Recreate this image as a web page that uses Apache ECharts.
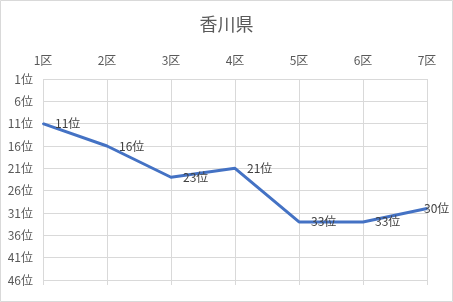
<!DOCTYPE html>
<html><head><meta charset="utf-8">
<script src="https://cdn.jsdelivr.net/npm/echarts@6/dist/echarts.min.js"></script>
<style>html,body{margin:0;padding:0;background:#fff}#c{width:453px;height:302px}</style>
</head><body><div id="c"></div>
<script>
const titleText = '香川県';
const categories = ['1区','2区','3区','4区','5区','6区','7区'];
const ranks = [11, 16, 23, 21, 33, 33, 30];
const yMin = 1, yMax = 46, yStep = 5;

const chart = echarts.init(document.getElementById('c'), null, {renderer:'canvas'});
const font = '"Noto Sans CJK JP", sans-serif';
const lastIdx = ranks.length - 1;
const seriesData = ranks.map((v, i) => i === lastIdx ? {value: v, label: {distance: -4}} : v);
chart.setOption({
  animation: false,
  backgroundColor: '#fff',
  graphic: [{type:'rect', shape:{x:0.5,y:0.5,width:452,height:301}, style:{fill:'none', stroke:'#d9d9d9', lineWidth:1}}],
  title: {text: titleText, left: 'center', top: 10, textStyle:{fontFamily: font, fontSize: 18, fontWeight: 'normal', color:'#595959'}},
  grid: {left: 43, right: 26, top: 79, bottom: 22, containLabel: false},
  xAxis: [{
    type:'category', data: categories, position:'top', boundaryGap:false,
    axisLine:{show:false}, axisTick:{show:false},
    axisLabel:{margin:13, fontFamily: font, fontSize:12, color:'#595959'},
    splitLine:{show:true, lineStyle:{color:'#d9d9d9', width:1}}
  },{
    type:'category', data: categories, position:'bottom', boundaryGap:false,
    axisLine:{show:false}, axisLabel:{show:false},
    axisTick:{show:true, length:5, lineStyle:{color:'#d9d9d9'}},
    splitLine:{show:false}
  }],
  yAxis: {
    type:'value', inverse:true, min:yMin, max:yMax, interval:yStep,
    axisLine:{show:false}, axisTick:{show:false},
    axisLabel:{margin:10, fontFamily: font, fontSize:12, color:'#595959', formatter: v => v + '位'},
    splitLine:{show:true, lineStyle:{color:'#d9d9d9', width:1}}
  },
  series: [{
    type:'line', data: seriesData, xAxisIndex:0, showSymbol:true, symbol:'circle', symbolSize:2,
    itemStyle:{color:'#4472C4'},
    lineStyle:{color:'#4472C4', width:3},
    label:{show:true, position:'right', distance:11, fontFamily: font, fontSize:12, color:'#404040', formatter: p => p.value + '位'},
    labelLayout:{hideOverlap:false}
  }]
});
</script></body></html>
